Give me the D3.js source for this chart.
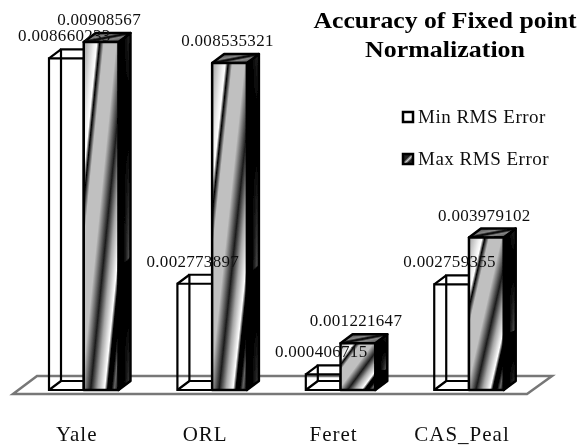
<!DOCTYPE html>
<html>
<head>
<meta charset="utf-8">
<script src="https://cdnjs.cloudflare.com/ajax/libs/d3/7.8.5/d3.min.js"></script>
<style>
  html, body { margin: 0; padding: 0; background: #fff; }
  svg { display: block; }
  text { font-family: "Liberation Serif", serif; fill: #111; }
</style>
</head>
<body>
<svg id="chart"></svg>
<script>
const categories = ['Yale', 'ORL', 'Feret', 'CAS_Peal'];
const seriesNames = ['Min RMS Error', 'Max RMS Error'];
const minRms = [0.008660233, 0.002773897, 0.000406715, 0.002759355];
const maxRms = [0.00908567, 0.008535321, 0.001221647, 0.003979102];
const minLabels = ['0.008660233', '0.002773897', '0.000406715', '0.002759355'];
const maxLabels = ['0.00908567', '0.008535321', '0.001221647', '0.003979102'];
const titleLines = ['Accuracy of Fixed point', 'Normalization'];
const titleWidths = [263, 160];

const width = 587;
const height = 446;
const depthX = 12;
const depthY = 9;

const svg = d3.select('#chart')
  .attr('width', width)
  .attr('height', height);

const defs = svg.append('defs');

const addGradient = (id, stops, x2, y2) => {
  const g = defs.append('linearGradient')
    .attr('id', id)
    .attr('x1', 0).attr('y1', 0)
    .attr('x2', x2).attr('y2', y2);
  stops.forEach(s => {
    g.append('stop')
      .attr('offset', s[0])
      .attr('stop-color', s[1])
      .attr('stop-opacity', s.length > 2 ? s[2] : 1);
  });
};

// same banded fill on each face, it stretches with the bar
addGradient('front', [
  [0, '#a0a0a0'], [0.15, '#f0f0f0'], [0.19, '#fff'], [0.23, '#000'], [0.29, '#c0c0c0'],
  [0.47, '#c0c0c0'], [0.6, '#1a1a1a'], [0.7, '#a8a8a8'], [0.8, '#fff'], [0.84, '#000'],
  [0.9, '#000'], [0.94, '#666'], [1, '#000']
], 1, 1);
addGradient('side', [
  [0, '#333'], [0.19, '#000'], [0.33, '#000'], [0.655, '#666'], [0.66, '#000'],
  [0.83, '#000'], [1, '#444']
], 0.03, 1);
addGradient('sideShade', [[0, '#000', 1], [0.45, '#000', 1], [1, '#000', 0]], 1, 0);
addGradient('top', [
  [0, '#222'], [0.38, '#888'], [0.47, '#111'], [0.53, '#111'], [0.62, '#888'], [1, '#222']
], 1, 1);
addGradient('legendFill', [
  [0, '#222'], [0.4, '#222'], [0.55, '#ccc'], [0.7, '#222'], [1, '#222']
], 1, 1);

defs.append('filter')
  .attr('id', 'soft')
  .attr('x', 0).attr('y', 0).attr('width', 1).attr('height', 1)
  .attr('filterUnits', 'objectBoundingBox')
  .append('feGaussianBlur')
  .attr('stdDeviation', 0.4);

const root = svg.append('g').attr('filter', 'url(#soft)');
root.append('rect').attr('width', width).attr('height', height).attr('fill', '#fff');

const x = d3.scaleBand()
  .domain(categories)
  .range([49, 503.7])
  .paddingInner(0.459);

const xInner = d3.scaleBand()
  .domain(seriesNames)
  .range([0, x.bandwidth()]);

const y = d3.scaleLinear()
  .domain([0, 0.00908567])
  .range([390, 42]);

// floor
root.append('path')
  .attr('d', 'M13,394 L37,376 L552,376 L527,394 Z')
  .attr('fill', 'none')
  .attr('stroke', '#777')
  .attr('stroke-width', 2.5);

const face = (g, d, fill) => g.append('path')
  .attr('d', d)
  .attr('fill', fill)
  .attr('stroke', fill.indexOf('Shade') > 0 ? 'none' : '#000')
  .attr('stroke-width', 2.5)
  .attr('stroke-linejoin', 'round');

const drawBar = (cat, name, value) => {
  const x0 = x(cat) + xInner(name);
  const x1 = x0 + xInner.bandwidth();
  const y0 = y(value);
  const y1 = y(0);
  const g = root.append('g').attr('class', 'bar');
  const frontPath = `M${x0},${y0} H${x1} V${y1} H${x0} Z`;
  const sidePath = `M${x1},${y0} L${x1 + depthX},${y0 - depthY} V${y1 - depthY} L${x1},${y1} Z`;
  const topPath = `M${x0},${y0} L${x0 + depthX},${y0 - depthY} H${x1 + depthX} L${x1},${y0} Z`;

  if (name === seriesNames[0]) {
    // min series is an empty wire frame, floor shows through
    const wire = g.append('g').attr('fill', 'none').attr('stroke', '#000').attr('stroke-width', 2.2);
    wire.append('path').attr('d', `M${x0 + depthX},${y0 - depthY} H${x1 + depthX} V${y1 - depthY} H${x0 + depthX} Z`);
    wire.append('path').attr('d', frontPath);
    wire.append('path').attr('d', `M${x0},${y0} L${x0 + depthX},${y0 - depthY} M${x0},${y1} L${x0 + depthX},${y1 - depthY} M${x1},${y0} L${x1 + depthX},${y0 - depthY}`);
  } else {
    face(g, sidePath, 'url(#side)');
    face(g, sidePath, 'url(#sideShade)');
    face(g, topPath, 'url(#top)');
    face(g, frontPath, 'url(#front)');
  }
};

categories.forEach((cat, i) => {
  drawBar(cat, seriesNames[0], minRms[i]);
  drawBar(cat, seriesNames[1], maxRms[i]);
});

// value labels sit on top of the bars
const labelRows = [
  { name: seriesNames[0], values: minRms, labels: minLabels },
  { name: seriesNames[1], values: maxRms, labels: maxLabels }
];
labelRows.forEach(row => {
  root.append('g').selectAll('text')
    .data(categories)
    .join('text')
    .attr('x', d => x(d) + xInner(row.name) + xInner.bandwidth() / 2 - 2)
    .attr('y', (d, i) => y(row.values[i]) - depthY - 8)
    .attr('text-anchor', 'middle')
    .style('font-size', '17px')
    .style('letter-spacing', '0.3px')
    .text((d, i) => row.labels[i]);
});

// category axis
const axis = root.append('g')
  .attr('transform', 'translate(-7,423)')
  .call(d3.axisBottom(x).tickSize(0).tickPadding(0));
axis.select('.domain').remove();
axis.selectAll('text')
  .attr('dy', '18px')
  .style('font-family', '"Liberation Serif", serif')
  .style('font-size', '21px')
  .style('letter-spacing', '1px')
  .style('fill', '#111');

// title, glyphs run wide in the original so stretch to its line widths
root.append('g').selectAll('text')
  .data(titleLines)
  .join('text')
  .attr('x', 445)
  .attr('y', (d, i) => 28 + i * 29)
  .attr('text-anchor', 'middle')
  .attr('textLength', (d, i) => titleWidths[i])
  .attr('lengthAdjust', 'spacingAndGlyphs')
  .style('font-size', '23px')
  .style('font-weight', 'bold')
  .style('fill', '#000')
  .text(d => d);

// legend
const legend = root.append('g').selectAll('g')
  .data(seriesNames)
  .join('g')
  .attr('transform', (d, i) => `translate(403,${123 + i * 42})`);
legend.append('rect')
  .attr('y', -11)
  .attr('width', 10)
  .attr('height', 10)
  .attr('fill', (d, i) => (i === 0 ? '#fff' : 'url(#legendFill)'))
  .attr('stroke', '#000')
  .attr('stroke-width', 2.5);
legend.append('text')
  .attr('x', 15)
  .style('font-size', '19px')
  .style('letter-spacing', '0.5px')
  .text(d => d);
</script>
</body>
</html>
